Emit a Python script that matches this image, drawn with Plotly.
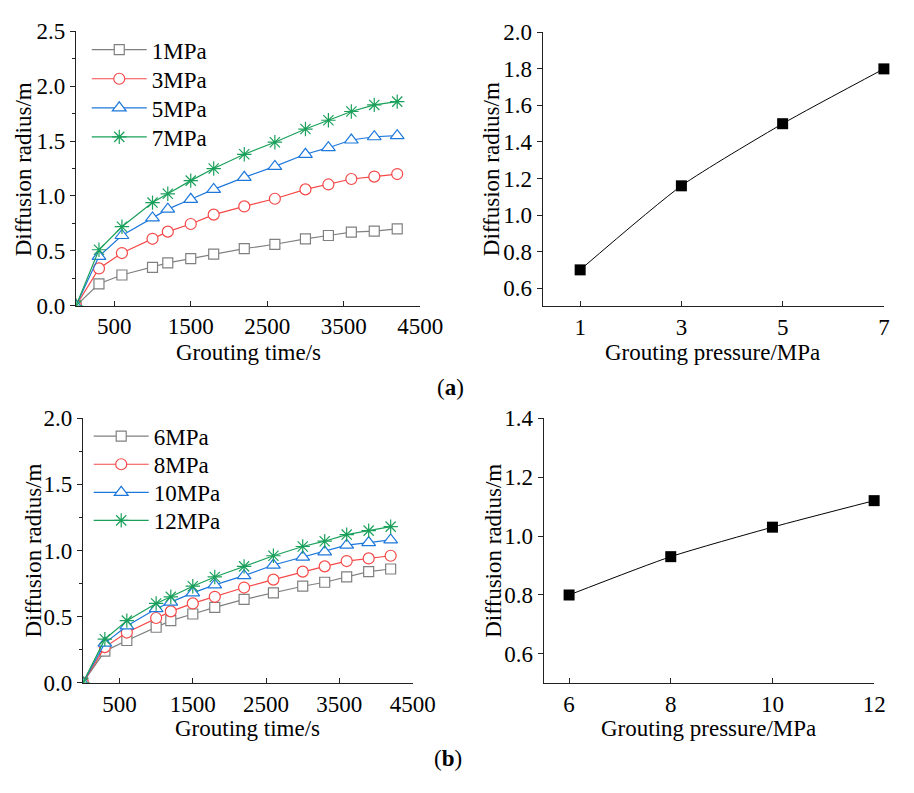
import plotly.graph_objects as go

# Grouting time (s) at which the diffusion radius was sampled
time_s = [0, 300, 600, 1000, 1200, 1500, 1800, 2200, 2600, 3000, 3300, 3600, 3900, 4200]

# (a) low-pressure group: diffusion radius (m) vs time
radius_1mpa = [0, 0.20, 0.28, 0.35, 0.39, 0.43, 0.47, 0.52, 0.56, 0.61, 0.64, 0.67, 0.68, 0.70]
radius_3mpa = [0, 0.34, 0.48, 0.61, 0.675, 0.745, 0.83, 0.905, 0.975, 1.06, 1.105, 1.155, 1.177, 1.20]
radius_5mpa = [0, 0.45, 0.64, 0.80, 0.88, 0.97, 1.06, 1.17, 1.27, 1.38, 1.44, 1.51, 1.54, 1.55]
radius_7mpa = [0, 0.51, 0.72, 0.94, 1.02, 1.14, 1.25, 1.38, 1.49, 1.61, 1.69, 1.77, 1.83, 1.86]

# (b) high-pressure group: diffusion radius (m) vs time
radius_6mpa = [0, 0.24, 0.32, 0.42, 0.47, 0.52, 0.57, 0.63, 0.68, 0.73, 0.76, 0.80, 0.84, 0.86]
radius_8mpa = [0, 0.27, 0.38, 0.49, 0.54, 0.60, 0.65, 0.72, 0.78, 0.84, 0.88, 0.92, 0.94, 0.96]
radius_10mpa = [0, 0.30, 0.43, 0.56, 0.61, 0.68, 0.74, 0.81, 0.89, 0.95, 0.99, 1.04, 1.06, 1.08]
radius_12mpa = [0, 0.33, 0.47, 0.60, 0.65, 0.73, 0.80, 0.88, 0.96, 1.03, 1.07, 1.12, 1.15, 1.18]

# Final diffusion radius vs grouting pressure
pressure_a = [1, 3, 5, 7]
final_radius_a = [0.70, 1.16, 1.50, 1.80]
pressure_b = [6, 8, 10, 12]
final_radius_b = [0.80, 0.93, 1.03, 1.12]

labels_a = ["1MPa", "3MPa", "5MPa", "7MPa"]
labels_b = ["6MPa", "8MPa", "10MPa", "12MPa"]

FONT = "Liberation Serif"
FS = 23
W, H = 914, 793

colors = ["#808080", "#F54848", "#1E78DC", "#1AA05A"]
symbols = ["square", "circle", "triangle-up", "asterisk"]
sizes = [10, 11, 12, 12]


def px_x(p):
    return p / W


def px_y(p):
    return 1 - p / H


fig = go.Figure()

series_a = [radius_1mpa, radius_3mpa, radius_5mpa, radius_7mpa]
series_b = [radius_6mpa, radius_8mpa, radius_10mpa, radius_12mpa]

# one legend box per entry so the rows can sit at a tight, even spacing
legend_rows_a = [39, 69, 99, 129]
legend_rows_b = [438, 467, 496, 525]
legend_layout = {}

for k, (ys, name) in enumerate(zip(series_a, labels_a)):
    lg = "legend" if k == 0 else f"legend{k + 1}"
    legend_layout[lg] = dict(x=px_x(89), y=px_y(legend_rows_a[k]), xanchor="left",
                             yanchor="middle")
    fig.add_trace(go.Scatter(
        x=time_s, y=ys, name=name, mode="lines+markers",
        xaxis="x", yaxis="y", legend=lg,
        line=dict(color=colors[k], width=1.2),
        marker=dict(symbol=symbols[k], size=sizes[k], color="white",
                    line=dict(color=colors[k], width=1.2)),
    ))

for k, (ys, name) in enumerate(zip(series_b, labels_b)):
    lg = f"legend{k + 5}"
    legend_layout[lg] = dict(x=px_x(91), y=px_y(legend_rows_b[k]), xanchor="left",
                             yanchor="middle")
    fig.add_trace(go.Scatter(
        x=time_s, y=ys, name=name, mode="lines+markers",
        xaxis="x3", yaxis="y3", legend=lg,
        line=dict(color=colors[k], width=1.2),
        marker=dict(symbol=symbols[k], size=sizes[k], color="white",
                    line=dict(color=colors[k], width=1.2)),
    ))

for lg in legend_layout.values():
    lg.update(itemwidth=55, bgcolor="rgba(0,0,0,0)", borderwidth=0,
              font=dict(family=FONT, size=FS, color="black"))

fig.add_trace(go.Scatter(
    x=pressure_a, y=final_radius_a, mode="lines+markers", showlegend=False,
    xaxis="x2", yaxis="y2", cliponaxis=False,
    line=dict(color="black", width=1, shape="spline", smoothing=0.6),
    marker=dict(symbol="square", size=11, color="black"),
))
fig.add_trace(go.Scatter(
    x=pressure_b, y=final_radius_b, mode="lines+markers", showlegend=False,
    xaxis="x4", yaxis="y4", cliponaxis=False,
    line=dict(color="black", width=1, shape="spline", smoothing=0.6),
    marker=dict(symbol="square", size=11, color="black"),
))

tickfont = dict(family=FONT, size=FS, color="black")
axis_common = dict(showgrid=False, zeroline=False, showline=True,
                   linecolor="#222", linewidth=1.2, tickcolor="#222",
                   tickfont=tickfont, ticklen=5, tickwidth=1.2)

fig.update_layout(
    width=W, height=H,
    margin=dict(l=0, r=0, t=0, b=0),
    paper_bgcolor="white", plot_bgcolor="white",
    font=dict(family=FONT, size=FS, color="black"),
    xaxis=dict(domain=[px_x(78), px_x(431)], range=[0, 4500],
               tickvals=[500, 1500, 2500, 3500, 4500], ticks="inside",
               anchor="y", **axis_common),
    yaxis=dict(domain=[px_y(303.3), px_y(20)], range=[0, 2.5], dtick=0.5,
               tickformat=".1f", ticks="outside", anchor="x",
               minor=dict(dtick=0.25, ticks="outside", ticklen=3, tickcolor="#222"),
               **axis_common),
    xaxis2=dict(domain=[px_x(556.7), px_x(906.7)], range=[0.26, 7],
                tickvals=pressure_a, ticks="inside", anchor="y2", **axis_common),
    yaxis2=dict(domain=[px_y(304), px_y(21)], range=[0.5, 2.0], dtick=0.2,
                tickformat=".1f", ticks="outside", anchor="x2", **axis_common),
    xaxis3=dict(domain=[px_x(85), px_x(423.3)], range=[0, 4500],
                tickvals=[500, 1500, 2500, 3500, 4500], ticks="inside",
                anchor="y3", **axis_common),
    yaxis3=dict(domain=[px_y(692.7), px_y(419.3)], range=[0, 2.0], dtick=0.5,
                tickformat=".1f", ticks="outside", anchor="x3",
                minor=dict(dtick=0.25, ticks="outside", ticklen=3, tickcolor="#222"),
                **axis_common),
    xaxis4=dict(domain=[px_x(557.7), px_x(896.7)], range=[5.5, 12],
                tickvals=pressure_b, ticks="inside", anchor="y4", **axis_common),
    yaxis4=dict(domain=[px_y(693.3), px_y(419.3)], range=[0.5, 1.4], dtick=0.2,
                tickformat=".1f", ticks="outside", anchor="x4", **axis_common),
    **legend_layout,
)

title_font = dict(family=FONT, size=FS, color="black")
annotations = [
    # x-axis titles
    dict(text="Grouting time/s", x=px_x(254.5), y=px_y(352)),
    dict(text="Grouting pressure/MPa", x=px_x(731), y=px_y(352)),
    dict(text="Grouting time/s", x=px_x(254), y=px_y(740)),
    dict(text="Grouting pressure/MPa", x=px_x(727), y=px_y(740)),
    # y-axis titles
    dict(text="Diffusion radius/m", x=px_x(24), y=px_y(162), textangle=-90),
    dict(text="Diffusion radius/m", x=px_x(505), y=px_y(162), textangle=-90),
    dict(text="Diffusion radius/m", x=px_x(34), y=px_y(556), textangle=-90),
    dict(text="Diffusion radius/m", x=px_x(506), y=px_y(556), textangle=-90),
    # panel labels
    dict(text="(<b>a</b>)", x=px_x(462), y=px_y(388)),
    dict(text="(<b>b</b>)", x=px_x(460), y=px_y(771)),
]
for a in annotations:
    a.update(xref="paper", yref="paper", xanchor="center", yanchor="middle",
             showarrow=False, font=title_font)
fig.update_layout(annotations=annotations)

fig.write_html("out.html")
